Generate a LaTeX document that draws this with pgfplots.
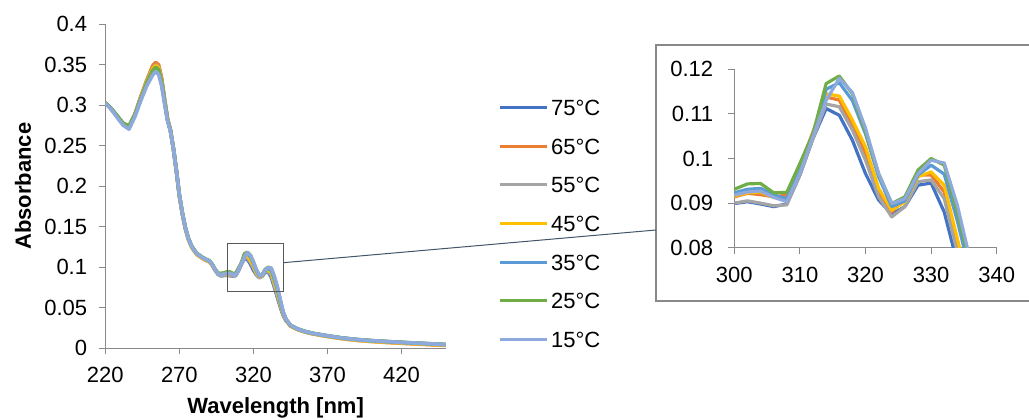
\documentclass[border=0pt]{standalone}
\usepackage{pgfplots}
\usepackage{pgfplotstable}
\pgfplotsset{compat=1.18}
\usepackage{fontspec}
\setmainfont{Liberation Sans}
\definecolor{cA}{HTML}{4472C4}
\definecolor{cB}{HTML}{ED7D31}
\definecolor{cC}{HTML}{A5A5A5}
\definecolor{cD}{HTML}{FFC000}
\definecolor{cE}{HTML}{5B9BD5}
\definecolor{cF}{HTML}{70AD47}
\definecolor{cG}{HTML}{8EA9DB}
\definecolor{axgray}{HTML}{898989}
\definecolor{slate}{HTML}{44546A}
\newcommand{\fs}{\fontsize{22}{26}\selectfont}
\pgfplotstableread{
x a b c d e f g
220 0.3030 0.3030 0.3030 0.3030 0.3030 0.3030 0.3025
224 0.2960 0.2955 0.2955 0.2955 0.2955 0.2960 0.2950
228 0.2870 0.2865 0.2865 0.2865 0.2860 0.2870 0.2850
232 0.2775 0.2765 0.2770 0.2770 0.2765 0.2780 0.2755
236 0.2740 0.2725 0.2730 0.2730 0.2720 0.2745 0.2705
240 0.2890 0.2890 0.2885 0.2880 0.2875 0.2885 0.2860
244 0.3100 0.3110 0.3095 0.3090 0.3080 0.3080 0.3060
248 0.3300 0.3310 0.3295 0.3290 0.3270 0.3275 0.3240
252 0.3470 0.3490 0.3460 0.3450 0.3420 0.3430 0.3375
254 0.3510 0.3530 0.3500 0.3490 0.3460 0.3470 0.3415
256 0.3480 0.3500 0.3470 0.3460 0.3430 0.3440 0.3380
258 0.3320 0.3340 0.3310 0.3300 0.3280 0.3290 0.3240
260 0.3070 0.3080 0.3060 0.3050 0.3040 0.3050 0.3020
262 0.2830 0.2835 0.2830 0.2825 0.2820 0.2825 0.2810
264 0.2690 0.2690 0.2690 0.2685 0.2685 0.2690 0.2680
266 0.2465 0.2460 0.2465 0.2460 0.2465 0.2465 0.2460
268 0.2195 0.2185 0.2190 0.2185 0.2190 0.2195 0.2190
270 0.1890 0.1880 0.1885 0.1880 0.1890 0.1895 0.1890
272 0.1670 0.1660 0.1665 0.1660 0.1670 0.1675 0.1670
274 0.1490 0.1480 0.1485 0.1480 0.1490 0.1495 0.1490
276 0.1360 0.1350 0.1355 0.1350 0.1360 0.1365 0.1360
278 0.1270 0.1260 0.1265 0.1260 0.1270 0.1275 0.1270
280 0.1210 0.1200 0.1205 0.1200 0.1210 0.1215 0.1210
282 0.1165 0.1155 0.1160 0.1155 0.1165 0.1170 0.1165
284 0.1140 0.1130 0.1135 0.1130 0.1140 0.1145 0.1140
286 0.1115 0.1105 0.1110 0.1105 0.1115 0.1120 0.1115
288 0.1095 0.1085 0.1090 0.1085 0.1095 0.1100 0.1095
290 0.1080 0.1070 0.1075 0.1070 0.1080 0.1085 0.1080
292 0.1035 0.1030 0.1035 0.1030 0.1040 0.1045 0.1040
294 0.0970 0.0970 0.0970 0.0970 0.0975 0.0980 0.0975
296 0.0915 0.0920 0.0915 0.0920 0.0925 0.0930 0.0920
298 0.0895 0.0910 0.0895 0.0910 0.0915 0.0925 0.0905
300 0.0899 0.0914 0.0900 0.0916 0.0923 0.0931 0.0918
302 0.0903 0.0922 0.0905 0.0923 0.0931 0.0943 0.0925
304 0.0898 0.0919 0.0900 0.0925 0.0933 0.0944 0.0927
306 0.0892 0.0914 0.0894 0.0913 0.0918 0.0923 0.0913
308 0.0898 0.0918 0.0896 0.0907 0.0910 0.0924 0.0903
310 0.0963 0.0981 0.0963 0.0970 0.0972 0.0989 0.0967
312 0.1045 0.1060 0.1045 0.1050 0.1052 0.1056 0.1049
314 0.1112 0.1138 0.1122 0.1145 0.1155 0.1168 0.1130
316 0.1097 0.1131 0.1116 0.1140 0.1170 0.1185 0.1180
318 0.1041 0.1075 0.1064 0.1086 0.1130 0.1145 0.1148
320 0.0966 0.1011 0.0996 0.1026 0.1055 0.1060 0.1068
322 0.0907 0.0925 0.0914 0.0933 0.0959 0.0966 0.0966
324 0.0875 0.0880 0.0869 0.0884 0.0892 0.0899 0.0899
326 0.0892 0.0910 0.0892 0.0903 0.0905 0.0914 0.0910
328 0.0940 0.0963 0.0948 0.0959 0.0963 0.0974 0.0966
330 0.0945 0.0963 0.0952 0.0970 0.0985 0.1000 0.0996
332 0.0880 0.0925 0.0910 0.0940 0.0965 0.0985 0.0990
334 0.0765 0.0805 0.0790 0.0820 0.0860 0.0880 0.0895
336 0.0640 0.0680 0.0660 0.0700 0.0740 0.0760 0.0770
338 0.0520 0.0550 0.0540 0.0560 0.0590 0.0600 0.0610
340 0.0410 0.0425 0.0420 0.0430 0.0445 0.0450 0.0455
342 0.0340 0.0345 0.0345 0.0350 0.0355 0.0360 0.0360
345 0.0280 0.0275 0.0280 0.0278 0.0283 0.0285 0.0285
350 0.0235 0.0230 0.0233 0.0232 0.0236 0.0238 0.0237
355 0.0205 0.0200 0.0203 0.0202 0.0206 0.0208 0.0207
360 0.0183 0.0178 0.0181 0.0180 0.0184 0.0186 0.0185
370 0.0152 0.0146 0.0150 0.0148 0.0153 0.0155 0.0154
380 0.0125 0.0118 0.0123 0.0120 0.0126 0.0128 0.0127
390 0.0106 0.0098 0.0104 0.0100 0.0107 0.0109 0.0108
400 0.0092 0.0084 0.0090 0.0086 0.0093 0.0095 0.0094
410 0.0081 0.0072 0.0079 0.0075 0.0082 0.0084 0.0083
420 0.0071 0.0062 0.0069 0.0065 0.0072 0.0074 0.0073
430 0.0062 0.0053 0.0060 0.0056 0.0063 0.0065 0.0064
440 0.0053 0.0044 0.0051 0.0047 0.0054 0.0056 0.0055
450 0.0044 0.0036 0.0042 0.0039 0.0045 0.0047 0.0046
}\spec
\pgfplotsset{
  common/.style={
    scale only axis,
    axis lines=left,
    axis line style={-, axgray, line width=0.9pt},
    tick style={axgray, line width=0.9pt},
    tick align=outside,
    major tick length=6pt,
    /pgf/number format/assume math mode=true,
    /pgf/number format/fixed,
    /pgf/number format/precision=2,
    tick label style={font=\fs, inner sep=0pt, black},
    every axis plot/.append style={line join=round, line cap=round, no markers},
    clip=true,
  },
}
\begin{document}
\begin{tikzpicture}[x=1pt,y=1pt]
\useasboundingbox (0,0) rectangle (1029,420);
\begin{axis}[common,
  at={(105.3pt,71.7pt)}, anchor=south west,
  width=340.7pt, height=324pt,
  xmin=220, xmax=450, ymin=0, ymax=0.4,
  xtick={220,270,320,370,420},
  ytick={0,0.05,...,0.4},
  yticklabel style={anchor=east, xshift=-12pt},
  xticklabel style={anchor=north, yshift=-12.5pt},
  xlabel={\bfseries Wavelength [nm]},
  ylabel={\bfseries Absorbance},
  label style={font=\fs},
  xlabel style={at={(axis description cs:0.5,-0.1997)}, anchor=base, inner sep=0pt},
  ylabel style={at={(axis description cs:-0.2416,0.5)}, anchor=center, inner sep=0pt},
  legend style={at={(1.1527,0.7685)}, anchor=north west, draw=none, fill=none,
    font=\fs, row sep=22.67pt, column sep=3pt, inner sep=0pt,
    nodes={inner sep=0pt, text height=16pt, text depth=0pt}},
  legend cell align=left,
  legend image code/.code={\draw[#1, line width=3pt, line cap=butt] (0pt,0pt) -- (47pt,0pt);},
  every axis plot/.append style={line width=3.6pt},
]
\addplot[cA] table[x=x,y=a] {\spec}; \addlegendentry{75°C}
\addplot[cB] table[x=x,y=b] {\spec}; \addlegendentry{65°C}
\addplot[cC] table[x=x,y=c] {\spec}; \addlegendentry{55°C}
\addplot[cD] table[x=x,y=d] {\spec}; \addlegendentry{45°C}
\addplot[cE] table[x=x,y=e] {\spec}; \addlegendentry{35°C}
\addplot[cF] table[x=x,y=f] {\spec}; \addlegendentry{25°C}
\addplot[cG] table[x=x,y=g] {\spec}; \addlegendentry{15°C}
\draw[black!65, line width=0.9pt] (axis cs:302.6,0.0707) rectangle (axis cs:340.1,0.1296);
\end{axis}
\draw[axgray, line width=1.2pt] (1029,375) -- (656,375) -- (656,119) -- (1029,119);
\draw[slate, line width=1pt] (283.3,157.3) -- (656,190);
\begin{axis}[common,
  at={(734.3pt,172.3pt)}, anchor=south west,
  width=262.4pt, height=178.4pt,
  xmin=300, xmax=340, ymin=0.08, ymax=0.12,
  xtick={300,310,...,340},
  ytick={0.08,0.09,...,0.12},
  yticklabel style={anchor=east, xshift=-15pt},
  xticklabel style={anchor=north, yshift=-13pt},
  every axis plot/.append style={line width=3.2pt},
]
\addplot[cA] table[x=x,y=a] {\spec};
\addplot[cB] table[x=x,y=b] {\spec};
\addplot[cC] table[x=x,y=c] {\spec};
\addplot[cD] table[x=x,y=d] {\spec};
\addplot[cE] table[x=x,y=e] {\spec};
\addplot[cF] table[x=x,y=f] {\spec};
\addplot[cG] table[x=x,y=g] {\spec};
\end{axis}
\end{tikzpicture}
\end{document}
